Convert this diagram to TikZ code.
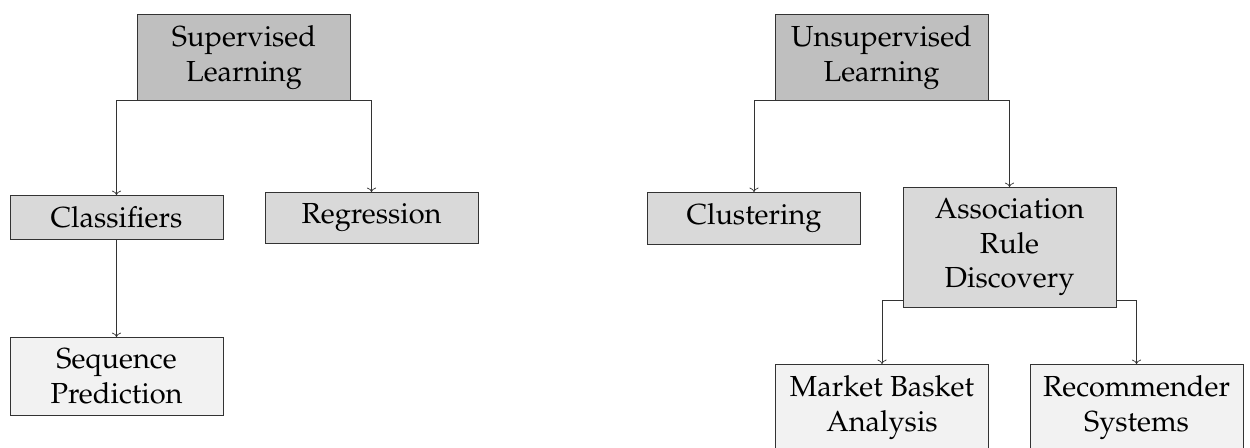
\documentclass[tikz,border=0pt]{standalone}
\usepackage[T1]{fontenc}
\usepackage{mathpazo}
\usepackage{tikz}
\usetikzlibrary{arrows.meta, positioning}

\begin{document}
\begin{tikzpicture}[
    box/.style={draw=black!80, rectangle, minimum width=4.26cm, inner ysep=6.4pt,
                align=center, anchor=north, font=\fontsize{16.5}{19.6}\selectfont},
    root/.style={box, fill=black!25},
    mid/.style={box, fill=black!15},
    leaf/.style={box, fill=black!5},
    arr/.style={->, black!80}
  ]
  \useasboundingbox (0,0) rectangle (25,-8.94);
  % Supervised learning
  \node[root] (sup) at (4.88, -0.28) {Supervised\\Learning};
  \node[mid] (cls) at (2.33, -3.90) {Classifiers};
  \node[mid] (reg) at (7.43, -3.84) {Regression};
  \node[leaf] (seq) at (2.33, -6.74) {Sequence\\Prediction};
  % Unsupervised learning
  \node[root] (uns) at (17.63, -0.28) {Unsupervised\\Learning};
  \node[mid] (clu) at (15.08, -3.84) {Clustering};
  \node[mid] (asc) at (20.19, -3.74) {Association\\Rule\\Discovery};
  \node[leaf] (mba) at (17.64, -7.28) {Market Basket\\Analysis};
  \node[leaf] (rec) at (22.73, -7.28) {Recommender\\Systems};
  % Connectors
  \foreach \a/\b/\c in {sup/cls/west, sup/reg/east, uns/clu/west, uns/asc/east} {
    \draw[arr] (\a.south \c) -| (\b.north);
  }
  \draw[arr] (cls) -- (seq);
  \draw[arr] ([yshift=0.14cm]asc.south west) -| (mba.north);
  \draw[arr] ([yshift=0.14cm]asc.south east) -| (rec.north);
\end{tikzpicture}
\end{document}
